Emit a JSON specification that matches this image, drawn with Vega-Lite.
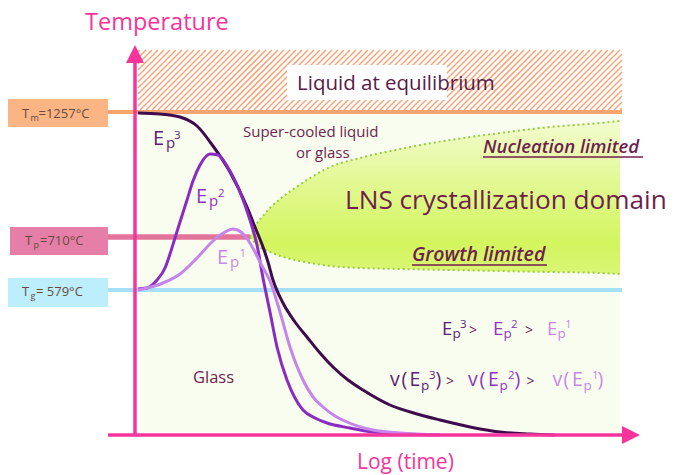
{
 "$schema": "https://vega.github.io/schema/vega-lite/v6.json",
 "width": 676, "height": 475, "padding": 0, "autosize": {"type": "none"},
 "background": "#ffffff",
 "config": {"view": {"stroke": null}, "text": {"font": "Open Sans", "align": "left", "baseline": "alphabetic"}},
 "datasets": {
  "hatch": [
   {"x":138,"y":423,"x2":140,"y2":425},{"x":138,"y":417,"x2":146,"y2":425},{"x":138,"y":411,"x2":152,"y2":425},{"x":138,"y":405,"x2":158,"y2":425},{"x":138,"y":399,"x2":164,"y2":425},{"x":138,"y":393,"x2":170,"y2":425},{"x":138,"y":387,"x2":176,"y2":425},{"x":138,"y":381,"x2":182,"y2":425},{"x":138,"y":375,"x2":188,"y2":425},{"x":138,"y":369,"x2":194,"y2":425},
   {"x":140,"y":365,"x2":200,"y2":425},{"x":146,"y":365,"x2":206,"y2":425},{"x":152,"y":365,"x2":212,"y2":425},{"x":158,"y":365,"x2":218,"y2":425},{"x":164,"y":365,"x2":224,"y2":425},{"x":170,"y":365,"x2":230,"y2":425},{"x":176,"y":365,"x2":236,"y2":425},{"x":182,"y":365,"x2":242,"y2":425},{"x":188,"y":365,"x2":248,"y2":425},{"x":194,"y":365,"x2":254,"y2":425},
   {"x":200,"y":365,"x2":260,"y2":425},{"x":206,"y":365,"x2":266,"y2":425},{"x":212,"y":365,"x2":272,"y2":425},{"x":218,"y":365,"x2":278,"y2":425},{"x":224,"y":365,"x2":284,"y2":425},{"x":230,"y":365,"x2":290,"y2":425},{"x":236,"y":365,"x2":296,"y2":425},{"x":242,"y":365,"x2":302,"y2":425},{"x":248,"y":365,"x2":308,"y2":425},{"x":254,"y":365,"x2":314,"y2":425},
   {"x":260,"y":365,"x2":320,"y2":425},{"x":266,"y":365,"x2":326,"y2":425},{"x":272,"y":365,"x2":332,"y2":425},{"x":278,"y":365,"x2":338,"y2":425},{"x":284,"y":365,"x2":344,"y2":425},{"x":290,"y":365,"x2":350,"y2":425},{"x":296,"y":365,"x2":356,"y2":425},{"x":302,"y":365,"x2":362,"y2":425},{"x":308,"y":365,"x2":368,"y2":425},{"x":314,"y":365,"x2":374,"y2":425},
   {"x":320,"y":365,"x2":380,"y2":425},{"x":326,"y":365,"x2":386,"y2":425},{"x":332,"y":365,"x2":392,"y2":425},{"x":338,"y":365,"x2":398,"y2":425},{"x":344,"y":365,"x2":404,"y2":425},{"x":350,"y":365,"x2":410,"y2":425},{"x":356,"y":365,"x2":416,"y2":425},{"x":362,"y":365,"x2":422,"y2":425},{"x":368,"y":365,"x2":428,"y2":425},{"x":374,"y":365,"x2":434,"y2":425},
   {"x":380,"y":365,"x2":440,"y2":425},{"x":386,"y":365,"x2":446,"y2":425},{"x":392,"y":365,"x2":452,"y2":425},{"x":398,"y":365,"x2":458,"y2":425},{"x":404,"y":365,"x2":464,"y2":425},{"x":410,"y":365,"x2":470,"y2":425},{"x":416,"y":365,"x2":476,"y2":425},{"x":422,"y":365,"x2":482,"y2":425},{"x":428,"y":365,"x2":488,"y2":425},{"x":434,"y":365,"x2":494,"y2":425},
   {"x":440,"y":365,"x2":500,"y2":425},{"x":446,"y":365,"x2":506,"y2":425},{"x":452,"y":365,"x2":512,"y2":425},{"x":458,"y":365,"x2":518,"y2":425},{"x":464,"y":365,"x2":524,"y2":425},{"x":470,"y":365,"x2":530,"y2":425},{"x":476,"y":365,"x2":536,"y2":425},{"x":482,"y":365,"x2":542,"y2":425},{"x":488,"y":365,"x2":548,"y2":425},{"x":494,"y":365,"x2":554,"y2":425},
   {"x":500,"y":365,"x2":560,"y2":425},{"x":506,"y":365,"x2":566,"y2":425},{"x":512,"y":365,"x2":572,"y2":425},{"x":518,"y":365,"x2":578,"y2":425},{"x":524,"y":365,"x2":584,"y2":425},{"x":530,"y":365,"x2":590,"y2":425},{"x":536,"y":365,"x2":596,"y2":425},{"x":542,"y":365,"x2":602,"y2":425},{"x":548,"y":365,"x2":608,"y2":425},{"x":554,"y":365,"x2":614,"y2":425},
   {"x":560,"y":365,"x2":620,"y2":425},
   {"x":566,"y":365,"x2":622,"y2":421},{"x":572,"y":365,"x2":622,"y2":415},{"x":578,"y":365,"x2":622,"y2":409},{"x":584,"y":365,"x2":622,"y2":403},{"x":590,"y":365,"x2":622,"y2":397},{"x":596,"y":365,"x2":622,"y2":391},{"x":602,"y":365,"x2":622,"y2":385},{"x":608,"y":365,"x2":622,"y2":379},{"x":614,"y":365,"x2":622,"y2":373},{"x":620,"y":365,"x2":622,"y2":367}
  ],
  "rects": [
   {"x":140,"x2":620,"y":43,"y2":360,"k":"bg"},
   {"x":287,"x2":447,"y":375,"y2":410,"k":"white"},
   {"x":8,"x2":108,"y":348,"y2":376,"k":"tmBox"},
   {"x":10,"x2":108,"y":220,"y2":248,"k":"tpBox"},
   {"x":8,"x2":108,"y":168,"y2":197,"k":"tgBox"}
  ],
  "zone": [
   {"x":250,"top":238,"bot":238},{"x":256,"top":250,"bot":231},{"x":263,"top":259,"bot":226},{"x":270,"top":267,"bot":223},{"x":280,"top":276,"bot":219},{"x":295,"top":287,"bot":215},{"x":310,"top":297,"bot":212},{"x":330,"top":308,"bot":209},{"x":360,"top":317,"bot":207},{"x":400,"top":326,"bot":206},{"x":450,"top":335,"bot":205},{"x":500,"top":342,"bot":204},{"x":550,"top":348,"bot":203},{"x":600,"top":352,"bot":202},{"x":620,"top":354,"bot":201}
  ],
  "refs": [
   {"x":108,"x2":622,"y":363,"k":"tmLine"},
   {"x":108,"x2":250,"y":238,"k":"tpLine"},
   {"x":108,"x2":622,"y":185,"k":"tgLine"}
  ],
  "curves": [
   {"k":"c3","x":138,"y":362},{"k":"c3","x":160,"y":361},{"k":"c3","x":180,"y":358},{"k":"c3","x":197,"y":349},{"k":"c3","x":213,"y":329},{"k":"c3","x":230,"y":303},{"k":"c3","x":247,"y":268},{"k":"c3","x":255,"y":248},{"k":"c3","x":263,"y":228},{"k":"c3","x":268,"y":213},{"k":"c3","x":273,"y":195},{"k":"c3","x":283,"y":172},{"k":"c3","x":295,"y":153},{"k":"c3","x":307,"y":138},{"k":"c3","x":320,"y":122},{"k":"c3","x":333,"y":108},{"k":"c3","x":348,"y":95},{"k":"c3","x":363,"y":85},{"k":"c3","x":390,"y":70},{"k":"c3","x":417,"y":61},{"k":"c3","x":440,"y":55},{"k":"c3","x":470,"y":48},{"k":"c3","x":500,"y":43},{"k":"c3","x":530,"y":41},{"k":"c3","x":555,"y":40},
   {"k":"c2","x":138,"y":186},{"k":"c2","x":147,"y":187},{"k":"c2","x":157,"y":195},{"k":"c2","x":165,"y":207},{"k":"c2","x":170,"y":221},{"k":"c2","x":175,"y":237},{"k":"c2","x":180,"y":253},{"k":"c2","x":187,"y":275},{"k":"c2","x":193,"y":294},{"k":"c2","x":200,"y":310},{"k":"c2","x":210,"y":321},{"k":"c2","x":218,"y":320},{"k":"c2","x":227,"y":309},{"k":"c2","x":240,"y":283},{"k":"c2","x":250,"y":255},{"k":"c2","x":257,"y":230},{"k":"c2","x":263,"y":197},{"k":"c2","x":270,"y":163},{"k":"c2","x":277,"y":128},{"k":"c2","x":287,"y":95},{"k":"c2","x":295,"y":77},{"k":"c2","x":303,"y":65},{"k":"c2","x":315,"y":57},{"k":"c2","x":327,"y":52},{"k":"c2","x":350,"y":47},{"k":"c2","x":373,"y":43},{"k":"c2","x":400,"y":41},{"k":"c2","x":440,"y":40},
   {"k":"c1","x":138,"y":185},{"k":"c1","x":147,"y":187},{"k":"c1","x":163,"y":192},{"k":"c1","x":180,"y":201},{"k":"c1","x":197,"y":217},{"k":"c1","x":213,"y":234},{"k":"c1","x":225,"y":243},{"k":"c1","x":233,"y":246},{"k":"c1","x":241,"y":243},{"k":"c1","x":248,"y":235},{"k":"c1","x":255,"y":223},{"k":"c1","x":262,"y":209},{"k":"c1","x":270,"y":194},{"k":"c1","x":280,"y":163},{"k":"c1","x":290,"y":128},{"k":"c1","x":303,"y":95},{"k":"c1","x":313,"y":78},{"k":"c1","x":323,"y":68},{"k":"c1","x":335,"y":59},{"k":"c1","x":347,"y":53},{"k":"c1","x":373,"y":45},{"k":"c1","x":400,"y":42},{"k":"c1","x":440,"y":40}
  ],
  "axes": [
   {"x":135,"x2":135,"y":40,"y2":414},
   {"x":108,"x2":624,"y":40,"y2":40}
  ],
  "arrows": [
   {"x":135,"y":421,"dir":"up"},
   {"x":631,"y":40,"dir":"right"}
  ],
  "ul": [
   {"x":483,"x2":643,"y":318},
   {"x":412,"x2":547,"y":210}
  ],
  "texts": [
   {"t":"Temperature","x":85,"y":445,"r":"axt","k":"ax"},
   {"t":"Log (time)","x":357,"y":6,"r":"axt2","k":"ax"},
   {"t":"Liquid at equilibrium","x":297,"y":385,"r":"liq","k":"dark"},
   {"t":"Super-cooled liquid","x":243,"y":338,"r":"plain","k":"mar"},
   {"t":"or glass","x":296,"y":317,"r":"plain","k":"mar"},
   {"t":"Glass","x":193,"y":92,"r":"glass","k":"mar"},
   {"t":"LNS crystallization domain","x":345,"y":266,"r":"big","k":"mar"},
   {"t":"Nucleation limited","x":483,"y":322,"r":"it","k":"mar"},
   {"t":"Growth limited","x":412,"y":214,"r":"it2","k":"mar"},
   {"t":"T","x":22,"y":357,"r":"lbl","k":"box"},{"t":"m","x":30.5,"y":354,"r":"lblsub","k":"box"},{"t":"=1257°C","x":38.5,"y":357,"r":"lbl","k":"box"},
   {"t":"T","x":25,"y":230,"r":"lbl","k":"box"},{"t":"p","x":33.5,"y":227,"r":"lblsub","k":"box"},{"t":"=710°C","x":40,"y":230,"r":"lbl","k":"box"},
   {"t":"T","x":22,"y":179,"r":"lbl","k":"box"},{"t":"g","x":30.5,"y":176,"r":"lblsub","k":"box"},{"t":" = 579°C","x":36,"y":179,"r":"lbl","k":"box"},
   {"t":"E","x":153,"y":330,"r":"E","k":"t3"},{"t":"p","x":166,"y":327,"r":"sub","k":"t3"},{"t":"3","x":174,"y":336,"r":"sup","k":"t3"},
   {"t":"E","x":196,"y":272,"r":"E","k":"t2"},{"t":"p","x":209,"y":269,"r":"sub","k":"t2"},{"t":"2","x":218,"y":278,"r":"sup","k":"t2"},
   {"t":"E","x":217,"y":211,"r":"E","k":"t1"},{"t":"p","x":230,"y":208,"r":"sub","k":"t1"},{"t":"1","x":239.5,"y":218,"r":"sup","k":"t1"},
   {"t":"E","x":442,"y":140,"r":"eqE","k":"t3"},{"t":"p","x":452.5,"y":137,"r":"eqsub","k":"t3"},{"t":"3","x":460,"y":147,"r":"sup","k":"t3"},{"t":">","x":469,"y":140,"r":"eqop","k":"op"},
   {"t":"E","x":493,"y":140,"r":"eqE","k":"t2"},{"t":"p","x":503.5,"y":137,"r":"eqsub","k":"t2"},{"t":"2","x":511,"y":147,"r":"sup","k":"t2"},{"t":">","x":525,"y":140,"r":"eqop","k":"op"},
   {"t":"E","x":547,"y":140,"r":"eqE","k":"t1"},{"t":"p","x":557.5,"y":137,"r":"eqsub","k":"t1"},{"t":"1","x":565,"y":147,"r":"sup","k":"t1"},
   {"t":"v","x":390,"y":89,"r":"eq2","k":"t3"},{"t":"(","x":401.5,"y":89,"r":"eq2","k":"t3"},{"t":"E","x":409.5,"y":89,"r":"eq2","k":"t3"},{"t":"p","x":421,"y":85,"r":"eqsub","k":"t3"},{"t":"3","x":429,"y":96,"r":"sup","k":"t3"},{"t":")","x":435.5,"y":89,"r":"eq2","k":"t3"},{"t":">","x":446,"y":89,"r":"eqop","k":"op"},
   {"t":"v","x":468,"y":89,"r":"eq2","k":"t2"},{"t":"(","x":479.5,"y":89,"r":"eq2","k":"t2"},{"t":"E","x":488,"y":89,"r":"eq2","k":"t2"},{"t":"p","x":499.5,"y":85,"r":"eqsub","k":"t2"},{"t":"2","x":508,"y":96,"r":"sup","k":"t2"},{"t":")","x":514.5,"y":89,"r":"eq2","k":"t2"},{"t":">","x":526.5,"y":89,"r":"eqop","k":"op"},
   {"t":"v","x":552.5,"y":89,"r":"eq2","k":"t1"},{"t":"(","x":563.5,"y":89,"r":"eq2","k":"t1"},{"t":"E","x":572,"y":89,"r":"eq2","k":"t1"},{"t":"p","x":583.5,"y":85,"r":"eqsub","k":"t1"},{"t":"1","x":592,"y":96,"r":"sup","k":"t1"},{"t":")","x":597.5,"y":89,"r":"eq2","k":"t1"}
  ]
 },
 "layer": [
  {"data": {"name": "hatch"}, "mark": {"type": "rule", "color": "#f7a77b", "strokeWidth": 1.6},
   "encoding": {"x": {"field": "x", "type": "quantitative", "scale": {"domain": [0, 676], "nice": false, "zero": false}, "axis": null},
                "y": {"field": "y", "type": "quantitative", "scale": {"domain": [0, 475], "nice": false, "zero": false}, "axis": null},
                "x2": {"field": "x2"}, "y2": {"field": "y2"}}},
  {"data": {"name": "rects"}, "mark": {"type": "rect"},
   "encoding": {"x": {"field": "x", "type": "quantitative", "scale": {"domain": [0, 676], "nice": false, "zero": false}, "axis": null},
                "y": {"field": "y", "type": "quantitative", "scale": {"domain": [0, 475], "nice": false, "zero": false}, "axis": null},
                "x2": {"field": "x2"}, "y2": {"field": "y2"},
                "color": {"field": "k", "type": "nominal", "legend": null, "scale": {"domain": ["ax","tmBox","tmLine","tpBox","tpLine","tgBox","tgLine","c3","c2","c1","t3","t2","t1","op","mar","dark","box","bg","white"], "range": ["#f7349c","#fbb585","#f8a46e","#e67fa7","#e2749c","#bdeefc","#a6e0f8","#3e0c4c","#8a2cc2","#c585ea","#5a2273","#8f35c4","#c58ae8","#6c2053","#6e1f4e","#5a1a48","#6a4a40","#f9fdf0","#ffffff"]}}}},
  {"data": {"name": "zone"},
   "mark": {"type": "area", "interpolate": "monotone", "fill": {"gradient": "linear", "x1": 0, "y1": 0, "x2": 0, "y2": 1, "stops": [{"offset": 0, "color": "#f2fccf"}, {"offset": 0.45, "color": "#e0f88c"}, {"offset": 0.8, "color": "#d3f55e"}, {"offset": 1, "color": "#daf676"}]}},
   "encoding": {"x": {"field": "x", "type": "quantitative", "scale": {"domain": [0, 676], "nice": false, "zero": false}, "axis": null},
                "y": {"field": "top", "type": "quantitative", "scale": {"domain": [0, 475], "nice": false, "zero": false}, "axis": null},
                "y2": {"field": "bot"}}},
  {"data": {"name": "zone"}, "mark": {"type": "line", "interpolate": "monotone", "color": "#9ccb3c", "strokeWidth": 2, "strokeDash": [2, 3]},
   "encoding": {"x": {"field": "x", "type": "quantitative", "scale": {"domain": [0, 676], "nice": false, "zero": false}, "axis": null},
                "y": {"field": "top", "type": "quantitative", "scale": {"domain": [0, 475], "nice": false, "zero": false}, "axis": null}}},
  {"data": {"name": "zone"}, "mark": {"type": "line", "interpolate": "monotone", "color": "#9ccb3c", "strokeWidth": 2, "strokeDash": [2, 3]},
   "encoding": {"x": {"field": "x", "type": "quantitative", "scale": {"domain": [0, 676], "nice": false, "zero": false}, "axis": null},
                "y": {"field": "bot", "type": "quantitative", "scale": {"domain": [0, 475], "nice": false, "zero": false}, "axis": null}}},
  {"data": {"name": "refs"}, "transform": [{"filter": "datum.k !== 'tpLine'"}], "mark": {"type": "rule", "strokeWidth": 4},
   "encoding": {"x": {"field": "x", "type": "quantitative", "scale": {"domain": [0, 676], "nice": false, "zero": false}, "axis": null},
                "y": {"field": "y", "type": "quantitative", "scale": {"domain": [0, 475], "nice": false, "zero": false}, "axis": null},
                "x2": {"field": "x2"},
                "color": {"field": "k", "type": "nominal", "legend": null, "scale": {"domain": ["ax","tmBox","tmLine","tpBox","tpLine","tgBox","tgLine","c3","c2","c1","t3","t2","t1","op","mar","dark","box","bg","white"], "range": ["#f7349c","#fbb585","#f8a46e","#e67fa7","#e2749c","#bdeefc","#a6e0f8","#3e0c4c","#8a2cc2","#c585ea","#5a2273","#8f35c4","#c58ae8","#6c2053","#6e1f4e","#5a1a48","#6a4a40","#f9fdf0","#ffffff"]}}}},
  {"data": {"name": "refs"}, "transform": [{"filter": "datum.k === 'tpLine'"}], "mark": {"type": "rule", "strokeWidth": 5.5},
   "encoding": {"x": {"field": "x", "type": "quantitative", "scale": {"domain": [0, 676], "nice": false, "zero": false}, "axis": null},
                "y": {"field": "y", "type": "quantitative", "scale": {"domain": [0, 475], "nice": false, "zero": false}, "axis": null},
                "x2": {"field": "x2"},
                "color": {"field": "k", "type": "nominal", "legend": null, "scale": {"domain": ["ax","tmBox","tmLine","tpBox","tpLine","tgBox","tgLine","c3","c2","c1","t3","t2","t1","op","mar","dark","box","bg","white"], "range": ["#f7349c","#fbb585","#f8a46e","#e67fa7","#e2749c","#bdeefc","#a6e0f8","#3e0c4c","#8a2cc2","#c585ea","#5a2273","#8f35c4","#c58ae8","#6c2053","#6e1f4e","#5a1a48","#6a4a40","#f9fdf0","#ffffff"]}}}},
  {"data": {"name": "curves"}, "mark": {"type": "line", "interpolate": "monotone", "strokeWidth": 3},
   "encoding": {"x": {"field": "x", "type": "quantitative", "scale": {"domain": [0, 676], "nice": false, "zero": false}, "axis": null},
                "y": {"field": "y", "type": "quantitative", "scale": {"domain": [0, 475], "nice": false, "zero": false}, "axis": null},
                "color": {"field": "k", "type": "nominal", "legend": null, "scale": {"domain": ["ax","tmBox","tmLine","tpBox","tpLine","tgBox","tgLine","c3","c2","c1","t3","t2","t1","op","mar","dark","box","bg","white"], "range": ["#f7349c","#fbb585","#f8a46e","#e67fa7","#e2749c","#bdeefc","#a6e0f8","#3e0c4c","#8a2cc2","#c585ea","#5a2273","#8f35c4","#c58ae8","#6c2053","#6e1f4e","#5a1a48","#6a4a40","#f9fdf0","#ffffff"]}}}},
  {"data": {"name": "axes"}, "mark": {"type": "rule", "color": "#f7349c", "strokeWidth": 3.5},
   "encoding": {"x": {"field": "x", "type": "quantitative", "scale": {"domain": [0, 676], "nice": false, "zero": false}, "axis": null},
                "y": {"field": "y", "type": "quantitative", "scale": {"domain": [0, 475], "nice": false, "zero": false}, "axis": null},
                "x2": {"field": "x2"}, "y2": {"field": "y2"}}},
  {"data": {"name": "arrows"}, "mark": {"type": "point", "filled": true, "opacity": 1, "color": "#f7349c", "size": 324, "strokeWidth": 0},
   "encoding": {"x": {"field": "x", "type": "quantitative", "scale": {"domain": [0, 676], "nice": false, "zero": false}, "axis": null},
                "y": {"field": "y", "type": "quantitative", "scale": {"domain": [0, 475], "nice": false, "zero": false}, "axis": null},
                "shape": {"field": "dir", "type": "nominal", "legend": null, "scale": {"domain": ["up", "right"], "range": ["M0,-1L1,1L-1,1Z", "M1,0L-1,-1L-1,1Z"]}}}},
  {"data": {"name": "ul"}, "mark": {"type": "rule", "color": "#6e1f4e", "strokeWidth": 1.6},
   "encoding": {"x": {"field": "x", "type": "quantitative", "scale": {"domain": [0, 676], "nice": false, "zero": false}, "axis": null},
                "y": {"field": "y", "type": "quantitative", "scale": {"domain": [0, 475], "nice": false, "zero": false}, "axis": null},
                "x2": {"field": "x2"}}},
  {"data": {"name": "texts"},
   "encoding": {"x": {"field": "x", "type": "quantitative", "scale": {"domain": [0, 676], "nice": false, "zero": false}, "axis": null},
                "y": {"field": "y", "type": "quantitative", "scale": {"domain": [0, 475], "nice": false, "zero": false}, "axis": null},
                "text": {"field": "t"},
                "color": {"field": "k", "type": "nominal", "legend": null, "scale": {"domain": ["ax","tmBox","tmLine","tpBox","tpLine","tgBox","tgLine","c3","c2","c1","t3","t2","t1","op","mar","dark","box","bg","white"], "range": ["#f7349c","#fbb585","#f8a46e","#e67fa7","#e2749c","#bdeefc","#a6e0f8","#3e0c4c","#8a2cc2","#c585ea","#5a2273","#8f35c4","#c58ae8","#6c2053","#6e1f4e","#5a1a48","#6a4a40","#f9fdf0","#ffffff"]}}},
   "layer": [
    {"transform": [{"filter": "datum.r === 'axt'"}], "mark": {"type": "text", "fontSize": 23.5}},
    {"transform": [{"filter": "datum.r === 'axt2'"}], "mark": {"type": "text", "fontSize": 21}},
    {"transform": [{"filter": "datum.r === 'liq'"}], "mark": {"type": "text", "fontSize": 20.5}},
    {"transform": [{"filter": "datum.r === 'plain'"}], "mark": {"type": "text", "fontSize": 15}},
    {"transform": [{"filter": "datum.r === 'glass'"}], "mark": {"type": "text", "fontSize": 16.5}},
    {"transform": [{"filter": "datum.r === 'big'"}], "mark": {"type": "text", "fontSize": 26.2}},
    {"transform": [{"filter": "datum.r === 'it'"}], "mark": {"type": "text", "fontSize": 18.5, "fontStyle": "italic", "fontWeight": 600}},
    {"transform": [{"filter": "datum.r === 'it2'"}], "mark": {"type": "text", "fontSize": 19.5, "fontStyle": "italic", "fontWeight": 600}},
    {"transform": [{"filter": "datum.r === 'lbl'"}], "mark": {"type": "text", "fontSize": 13}},
    {"transform": [{"filter": "datum.r === 'lblsub'"}], "mark": {"type": "text", "fontSize": 9}},
    {"transform": [{"filter": "datum.r === 'E'"}], "mark": {"type": "text", "fontSize": 20}},
    {"transform": [{"filter": "datum.r === 'sub'"}], "mark": {"type": "text", "fontSize": 15}},
    {"transform": [{"filter": "datum.r === 'sup'"}], "mark": {"type": "text", "fontSize": 11.5}},
    {"transform": [{"filter": "datum.r === 'eqE'"}], "mark": {"type": "text", "fontSize": 18.5}},
    {"transform": [{"filter": "datum.r === 'eq2'"}], "mark": {"type": "text", "fontSize": 19.5}},
    {"transform": [{"filter": "datum.r === 'eqsub'"}], "mark": {"type": "text", "fontSize": 13.5}},
    {"transform": [{"filter": "datum.r === 'eqop'"}], "mark": {"type": "text", "fontSize": 14}}
   ]}
 ]
}
